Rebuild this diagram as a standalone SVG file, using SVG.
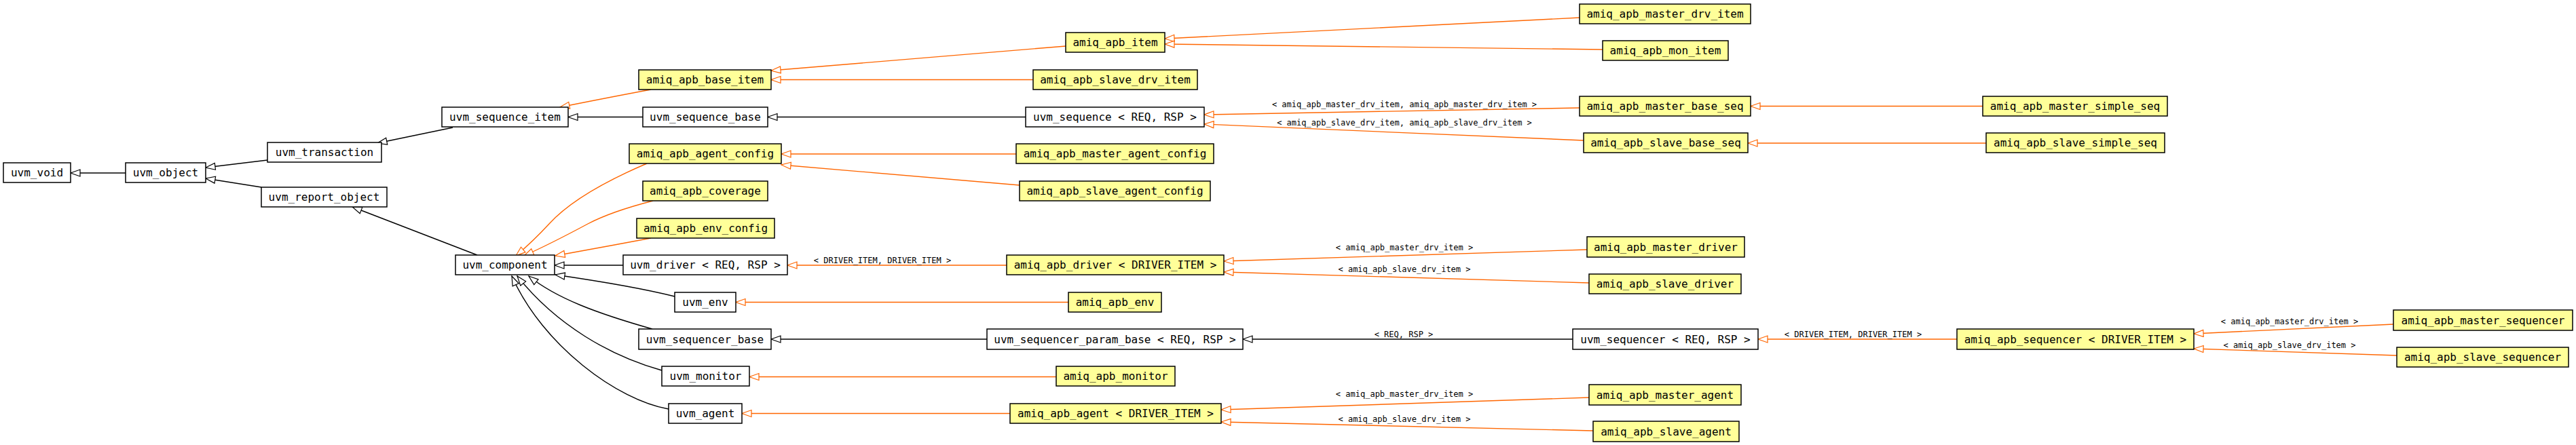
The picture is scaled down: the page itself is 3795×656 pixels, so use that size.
<svg xmlns="http://www.w3.org/2000/svg" width="3795" height="656" viewBox="0 0 3795 656">
<style>
.n rect{fill:#ffffff;stroke:#000000;stroke-width:1.5}
.y rect{fill:#ffff99;stroke:#000000;stroke-width:1.5}
.n text,.y text{font-family:"DejaVu Sans Mono","Liberation Mono",monospace;font-size:16px;text-anchor:middle;fill:#000}
.e path{fill:none;stroke-width:1.4}
.b{stroke:#000000;marker-end:url(#ab)}
.o{stroke:#ff6600;marker-end:url(#ao)}
.l{font-family:"DejaVu Sans Mono","Liberation Mono",monospace;font-size:12px;text-anchor:middle;fill:#000}
</style>
<defs>
<marker id="ab" markerUnits="userSpaceOnUse" markerWidth="18" markerHeight="14" refX="15" refY="6" orient="auto">
<path d="M1,1 L15,6 L1,11 Z" fill="#ffffff" stroke="#000000" stroke-width="1.2"/>
</marker>
<marker id="ao" markerUnits="userSpaceOnUse" markerWidth="18" markerHeight="14" refX="15" refY="6" orient="auto">
<path d="M1,1 L15,6 L1,11 Z" fill="#ffffff" stroke="#ff6600" stroke-width="1.2"/>
</marker>
</defs>
<rect x="0" y="0" width="3795" height="656" fill="#ffffff"/>
<g id="edges" class="e">
<path class="b" d="M185,255 L104,255"/>
<path class="b" d="M394,236 L303,247"/>
<path class="b" d="M385,276 L303,263"/>
<path class="b" d="M667,188 L556,211"/>
<path class="b" d="M703,376 L519,305"/>
<path class="b" d="M947,172.5 L837,172.5"/>
<path class="b" d="M1511,172.5 L1131,172.5"/>
<path class="o" d="M959,132 Q900,143 825,158"/>
<path class="o" d="M1570,68 L1136,104"/>
<path class="o" d="M1522,117.5 L1136,117.5"/>
<path class="o" d="M2327,26 L1716,57"/>
<path class="o" d="M2361,73 L1716,65"/>
<path class="o" d="M2327,159 L1774,169"/>
<path class="o" d="M2333,207 L1774,183"/>
<path class="o" d="M2921,156.5 L2579,156.5"/>
<path class="o" d="M2926,211 L2575,211"/>
<path class="o" d="M1497,227 L1151,227"/>
<path class="o" d="M1502,273 L1151,243"/>
<path class="o" d="M953,241 Q850,285 809,330 Q785,356 760,377"/>
<path class="o" d="M962,296 Q900,312 866,330 Q810,360 772,377"/>
<path class="o" d="M959,351 L900,362 L818,377"/>
<path class="b" d="M918,391 L817,391"/>
<path class="o" d="M1483,391 L1160,391"/>
<path class="o" d="M2338,368 L1803,385"/>
<path class="o" d="M2341,417 L1803,401"/>
<path class="b" d="M994,437 C950,426 880,414 818,405"/>
<path class="b" d="M961,485 C880,462 820,440 779,407"/>
<path class="b" d="M975,546 C900,525 820,480 762,407"/>
<path class="b" d="M985,603 C910,590 800,510 754,407"/>
<path class="o" d="M1574,445.5 L1084,445.5"/>
<path class="b" d="M1454,500 L1136,500"/>
<path class="b" d="M2317,500 L1831,500"/>
<path class="o" d="M2883,500 L2590,500"/>
<path class="o" d="M3526,478 L3232,492"/>
<path class="o" d="M3531,524 L3232,514"/>
<path class="o" d="M1556,555.5 L1104,555.5"/>
<path class="o" d="M1488,609.5 L1093,609.5"/>
<path class="o" d="M2341,586 L1799,604"/>
<path class="o" d="M2347,635 L1799,622"/>
<text class="l" x="2069" y="158">&lt; amiq_apb_master_drv_item, amiq_apb_master_drv_item &gt;</text>
<text class="l" x="2069" y="184.5">&lt; amiq_apb_slave_drv_item, amiq_apb_slave_drv_item &gt;</text>
<text class="l" x="1300" y="387.5">&lt; DRIVER_ITEM, DRIVER_ITEM &gt;</text>
<text class="l" x="2069" y="368.5">&lt; amiq_apb_master_drv_item &gt;</text>
<text class="l" x="2069" y="400.5">&lt; amiq_apb_slave_drv_item &gt;</text>
<text class="l" x="2068" y="497">&lt; REQ, RSP &gt;</text>
<text class="l" x="2730" y="497">&lt; DRIVER_ITEM, DRIVER_ITEM &gt;</text>
<text class="l" x="3373" y="478">&lt; amiq_apb_master_drv_item &gt;</text>
<text class="l" x="3373" y="513">&lt; amiq_apb_slave_drv_item &gt;</text>
<text class="l" x="2069" y="584.5">&lt; amiq_apb_master_drv_item &gt;</text>
<text class="l" x="2069" y="622">&lt; amiq_apb_slave_drv_item &gt;</text>
</g>
<g id="uvm_void" class="n"><rect x="5" y="240" width="99" height="29"/><text x="54.5" y="260">uvm_void</text></g>
<g id="uvm_object" class="n"><rect x="185" y="240" width="118" height="29"/><text x="244" y="260">uvm_object</text></g>
<g id="uvm_transaction" class="n"><rect x="394" y="210" width="168" height="29"/><text x="478" y="230">uvm_transaction</text></g>
<g id="uvm_report_object" class="n"><rect x="385" y="276" width="185" height="29"/><text x="477.5" y="296">uvm_report_object</text></g>
<g id="uvm_sequence_item" class="n"><rect x="651" y="158" width="186" height="29"/><text x="744" y="178">uvm_sequence_item</text></g>
<g id="uvm_sequence_base" class="n"><rect x="947" y="158" width="184" height="29"/><text x="1039" y="178">uvm_sequence_base</text></g>
<g id="uvm_sequence" class="n"><rect x="1511" y="158" width="263" height="29"/><text x="1642.5" y="178">uvm_sequence &lt; REQ, RSP &gt;</text></g>
<g id="amiq_apb_item" class="y"><rect x="1570" y="48" width="146" height="29"/><text x="1643" y="68">amiq_apb_item</text></g>
<g id="amiq_apb_base_item" class="y"><rect x="941" y="103" width="195" height="29"/><text x="1038.5" y="123">amiq_apb_base_item</text></g>
<g id="amiq_apb_slave_drv_item" class="y"><rect x="1522" y="103" width="242" height="29"/><text x="1643" y="123">amiq_apb_slave_drv_item</text></g>
<g id="amiq_apb_master_drv_item" class="y"><rect x="2327" y="6" width="252" height="29"/><text x="2453" y="26">amiq_apb_master_drv_item</text></g>
<g id="amiq_apb_mon_item" class="y"><rect x="2361" y="60" width="185" height="29"/><text x="2453.5" y="80">amiq_apb_mon_item</text></g>
<g id="amiq_apb_master_base_seq" class="y"><rect x="2327" y="142" width="252" height="29"/><text x="2453" y="162">amiq_apb_master_base_seq</text></g>
<g id="amiq_apb_slave_base_seq" class="y"><rect x="2333" y="196" width="242" height="29"/><text x="2454" y="216">amiq_apb_slave_base_seq</text></g>
<g id="amiq_apb_master_simple_seq" class="y"><rect x="2921" y="142" width="272" height="29"/><text x="3057" y="162">amiq_apb_master_simple_seq</text></g>
<g id="amiq_apb_slave_simple_seq" class="y"><rect x="2926" y="196" width="263" height="29"/><text x="3057.5" y="216">amiq_apb_slave_simple_seq</text></g>
<g id="amiq_apb_agent_config" class="y"><rect x="927" y="212" width="224" height="29"/><text x="1039" y="232">amiq_apb_agent_config</text></g>
<g id="amiq_apb_master_agent_config" class="y"><rect x="1497" y="212" width="291" height="29"/><text x="1642.5" y="232">amiq_apb_master_agent_config</text></g>
<g id="amiq_apb_coverage" class="y"><rect x="947" y="267" width="184" height="29"/><text x="1039" y="287">amiq_apb_coverage</text></g>
<g id="amiq_apb_slave_agent_config" class="y"><rect x="1502" y="267" width="281" height="29"/><text x="1642.5" y="287">amiq_apb_slave_agent_config</text></g>
<g id="amiq_apb_env_config" class="y"><rect x="938" y="322" width="203" height="29"/><text x="1039.5" y="342">amiq_apb_env_config</text></g>
<g id="uvm_component" class="n"><rect x="671" y="376" width="146" height="29"/><text x="744" y="396">uvm_component</text></g>
<g id="uvm_driver" class="n"><rect x="918" y="376" width="242" height="29"/><text x="1039" y="396">uvm_driver &lt; REQ, RSP &gt;</text></g>
<g id="amiq_apb_driver" class="y"><rect x="1483" y="376" width="320" height="29"/><text x="1643" y="396">amiq_apb_driver &lt; DRIVER_ITEM &gt;</text></g>
<g id="amiq_apb_master_driver" class="y"><rect x="2338" y="349" width="232" height="30"/><text x="2454" y="369.5">amiq_apb_master_driver</text></g>
<g id="amiq_apb_slave_driver" class="y"><rect x="2341" y="404" width="224" height="29"/><text x="2453" y="424">amiq_apb_slave_driver</text></g>
<g id="uvm_env" class="n"><rect x="994" y="431" width="90" height="29"/><text x="1039" y="451">uvm_env</text></g>
<g id="amiq_apb_env" class="y"><rect x="1574" y="431" width="137" height="29"/><text x="1642.5" y="451">amiq_apb_env</text></g>
<g id="uvm_sequencer_base" class="n"><rect x="941" y="485" width="195" height="30"/><text x="1038.5" y="505.5">uvm_sequencer_base</text></g>
<g id="uvm_sequencer_param_base" class="n"><rect x="1454" y="485" width="377" height="30"/><text x="1642.5" y="505.5">uvm_sequencer_param_base &lt; REQ, RSP &gt;</text></g>
<g id="uvm_sequencer" class="n"><rect x="2317" y="485" width="273" height="30"/><text x="2453.5" y="505.5">uvm_sequencer &lt; REQ, RSP &gt;</text></g>
<g id="amiq_apb_sequencer" class="y"><rect x="2883" y="485" width="349" height="30"/><text x="3057.5" y="505.5">amiq_apb_sequencer &lt; DRIVER_ITEM &gt;</text></g>
<g id="amiq_apb_master_sequencer" class="y"><rect x="3526" y="457" width="264" height="30"/><text x="3658" y="477.5">amiq_apb_master_sequencer</text></g>
<g id="amiq_apb_slave_sequencer" class="y"><rect x="3531" y="512" width="253" height="29"/><text x="3657.5" y="532">amiq_apb_slave_sequencer</text></g>
<g id="uvm_monitor" class="n"><rect x="975" y="540" width="129" height="29"/><text x="1039.5" y="560">uvm_monitor</text></g>
<g id="amiq_apb_monitor" class="y"><rect x="1556" y="540" width="175" height="29"/><text x="1643.5" y="560">amiq_apb_monitor</text></g>
<g id="uvm_agent" class="n"><rect x="985" y="595" width="108" height="29"/><text x="1039" y="615">uvm_agent</text></g>
<g id="amiq_apb_agent" class="y"><rect x="1488" y="595" width="311" height="29"/><text x="1643.5" y="615">amiq_apb_agent &lt; DRIVER_ITEM &gt;</text></g>
<g id="amiq_apb_master_agent" class="y"><rect x="2341" y="567" width="224" height="30"/><text x="2453" y="587.5">amiq_apb_master_agent</text></g>
<g id="amiq_apb_slave_agent" class="y"><rect x="2347" y="621" width="215" height="30"/><text x="2454.5" y="641.5">amiq_apb_slave_agent</text></g>
</svg>
